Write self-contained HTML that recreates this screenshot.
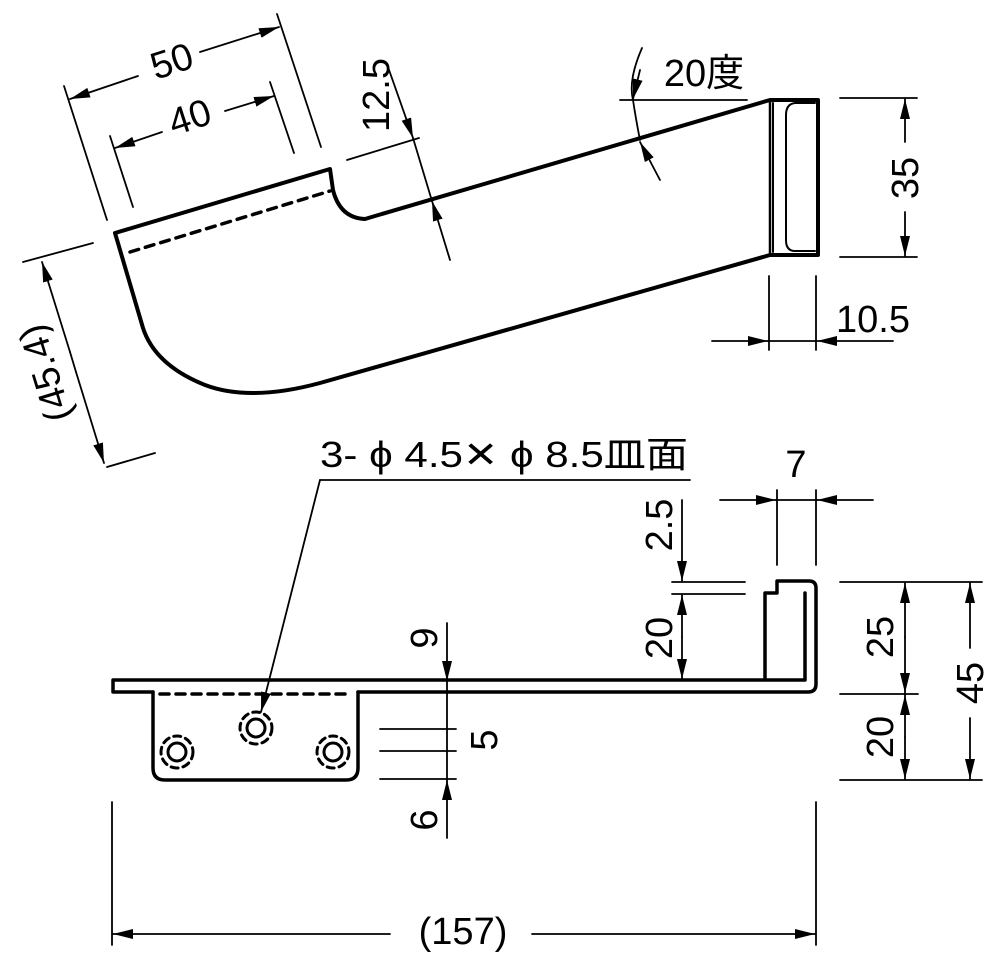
<!DOCTYPE html>
<html><head><meta charset="utf-8"><style>
html,body{margin:0;padding:0;background:#fff;}
svg{display:block;}
text{font-family:"Liberation Sans","Noto Sans CJK JP",sans-serif;fill:#000;}
</style></head><body>
<svg width="1000" height="962" viewBox="0 0 1000 962" xmlns="http://www.w3.org/2000/svg">
<defs>
<marker id="a" viewBox="0 0 20 10" refX="20" refY="5" markerWidth="20" markerHeight="10" markerUnits="userSpaceOnUse" orient="auto-start-reverse">
<path d="M0,0 L20,5 L0,10 Z" fill="#000"/>
</marker>
</defs>
<g fill="none" stroke="#000" stroke-linecap="round" stroke-linejoin="round">
<path stroke-width="4" d="M115,233 L330,169 L333,190 Q340,218 365,219 L375,216 L770,100 L818,100 L818,255 L770,255 L320,383 Q250,402 205,385 Q155,365 143,328 Z"/>
<path stroke-width="2.5" d="M770,100 L770,255"/>
<path stroke-width="2" d="M815,103 L795,103 Q786,104 786,115 L786,240 Q786,251 795,251 L815,251"/>
<path stroke-width="2" d="M773,103 L773,252"/>
<path stroke-width="3.5" stroke-dasharray="9,7" d="M130,252 L330,191"/>

<g stroke-width="1.8">
<line x1="64" y1="86" x2="107" y2="220"/>
<line x1="277" y1="14" x2="321" y2="147"/>
<line x1="70" y1="99" x2="138" y2="76" marker-start="url(#a)"/>
<line x1="200" y1="52" x2="279" y2="27" marker-end="url(#a)"/>
<line x1="110" y1="136" x2="133" y2="207"/>
<line x1="270" y1="82" x2="294" y2="153"/>
<line x1="115" y1="148" x2="162" y2="132" marker-start="url(#a)"/>
<line x1="225" y1="111" x2="274" y2="96" marker-end="url(#a)"/>
<line x1="347" y1="160" x2="419" y2="138"/>
<line x1="388" y1="67" x2="413" y2="138" marker-end="url(#a)"/>
<line x1="450" y1="260" x2="432" y2="201" marker-end="url(#a)"/>
<line x1="413" y1="138" x2="432" y2="201"/>
<line x1="23" y1="262" x2="93" y2="243"/>
<line x1="107" y1="467" x2="155" y2="453"/>
<line x1="70" y1="352" x2="42" y2="262" marker-end="url(#a)"/>
<line x1="76" y1="372" x2="104" y2="463" marker-end="url(#a)"/>
<line x1="70" y1="352" x2="76" y2="372"/>
<line x1="620" y1="100" x2="747" y2="100"/>
<path d="M642,48 Q628,80 633,100 Q636,120 640,140"/>
<line x1="640" y1="70" x2="633" y2="99" marker-end="url(#a)"/>
<line x1="660" y1="180" x2="640" y2="142" marker-end="url(#a)"/>
<line x1="840" y1="98" x2="917" y2="98"/>
<line x1="840" y1="257" x2="917" y2="257"/>
<line x1="905" y1="142" x2="905" y2="99" marker-end="url(#a)"/>
<line x1="905" y1="212" x2="905" y2="256" marker-end="url(#a)"/>
<line x1="769" y1="276" x2="769" y2="350"/>
<line x1="816" y1="276" x2="816" y2="350"/>
<line x1="712" y1="341" x2="768" y2="341" marker-end="url(#a)"/>
<line x1="768" y1="341" x2="816" y2="341"/>
<line x1="893" y1="341" x2="817" y2="341" marker-end="url(#a)"/>
</g>

<path stroke-width="3.5" d="M113,680 L765,680 M113,680 L113,692 L153,692 M358,692 L808,692 Q816,692 816,684 L816,588 Q816,581 809,581 L777,581 L777,593 L765,593 L765,680 M805,593 L805,680 L765,680"/>
<path stroke-width="3.5" d="M153,692 L153,768 Q153,780 165,780 L346,780 Q358,780 358,768 L358,692"/>
<path stroke-width="3.5" stroke-dasharray="9,7" d="M160,694 L352,694"/>
<g stroke-width="3">
<circle cx="177" cy="752" r="9"/>
<circle cx="256" cy="728" r="9"/>
<circle cx="333" cy="752" r="9"/>
</g>
<g stroke-width="3" stroke-dasharray="7,5">
<circle cx="177" cy="752" r="16"/>
<circle cx="256" cy="728" r="16"/>
<circle cx="333" cy="752" r="16"/>
</g>
<g stroke-width="1.8">
<line x1="320" y1="480" x2="690" y2="480"/>
<line x1="320" y1="480" x2="261" y2="712" marker-end="url(#a)"/>
<line x1="447" y1="623" x2="447" y2="681" marker-end="url(#a)"/>
<line x1="447" y1="681" x2="447" y2="779"/>
<line x1="447" y1="838" x2="447" y2="780" marker-end="url(#a)"/>
<line x1="380" y1="729" x2="456" y2="729"/>
<line x1="380" y1="751" x2="456" y2="751"/>
<line x1="380" y1="779" x2="456" y2="779"/>
<line x1="672" y1="582" x2="745" y2="582"/>
<line x1="672" y1="594" x2="745" y2="594"/>
<line x1="682" y1="500" x2="682" y2="581" marker-end="url(#a)"/>
<line x1="682" y1="637" x2="682" y2="595" marker-end="url(#a)"/>
<line x1="682" y1="637" x2="682" y2="679" marker-end="url(#a)"/>
<line x1="777" y1="490" x2="777" y2="565"/>
<line x1="816" y1="490" x2="816" y2="565"/>
<line x1="720" y1="500" x2="776" y2="500" marker-end="url(#a)"/>
<line x1="776" y1="500" x2="817" y2="500"/>
<line x1="873" y1="500" x2="817" y2="500" marker-end="url(#a)"/>
<line x1="840" y1="582" x2="982" y2="582"/>
<line x1="840" y1="694" x2="918" y2="694"/>
<line x1="840" y1="780" x2="982" y2="780"/>
<line x1="905" y1="637" x2="905" y2="583" marker-end="url(#a)"/>
<line x1="905" y1="637" x2="905" y2="693" marker-end="url(#a)"/>
<line x1="905" y1="737" x2="905" y2="695" marker-end="url(#a)"/>
<line x1="905" y1="737" x2="905" y2="779" marker-end="url(#a)"/>
<line x1="970" y1="648" x2="970" y2="583" marker-end="url(#a)"/>
<line x1="970" y1="718" x2="970" y2="779" marker-end="url(#a)"/>
<line x1="112" y1="802" x2="112" y2="945"/>
<line x1="816" y1="802" x2="816" y2="945"/>
<line x1="390" y1="934" x2="113" y2="934" marker-end="url(#a)"/>
<line x1="532" y1="934" x2="815" y2="934" marker-end="url(#a)"/>
</g>
</g>

<g font-size="38" text-anchor="middle" dominant-baseline="central">
<text transform="translate(172,62) rotate(-18)">50</text>
<text transform="translate(190,118) rotate(-18)">40</text>
<text transform="translate(377,95) rotate(-90)">12.5</text>
<text transform="translate(46,373) rotate(-107)">(45.4)</text>
<text x="704" y="74">20度</text>
<text transform="translate(906,178) rotate(-90)">35</text>
<text x="873" y="320">10.5</text>
<text x="796" y="465">7</text>
<text transform="translate(660,525) rotate(-90)">2.5</text>
<text transform="translate(660,638) rotate(-90)">20</text>
<text transform="translate(425,638) rotate(-90)">9</text>
<text transform="translate(485,740) rotate(-90)">5</text>
<text transform="translate(425,820) rotate(-90)">6</text>
<text transform="translate(881,637) rotate(-90)">25</text>
<text transform="translate(881,737) rotate(-90)">20</text>
<text transform="translate(971,683) rotate(-90)">45</text>
<text x="463" y="932">(157)</text>
</g>
<text x="320" y="467" font-size="36" textLength="368" lengthAdjust="spacingAndGlyphs">3- ϕ 4.5✕ ϕ 8.5皿面</text>
</svg>
</body></html>
